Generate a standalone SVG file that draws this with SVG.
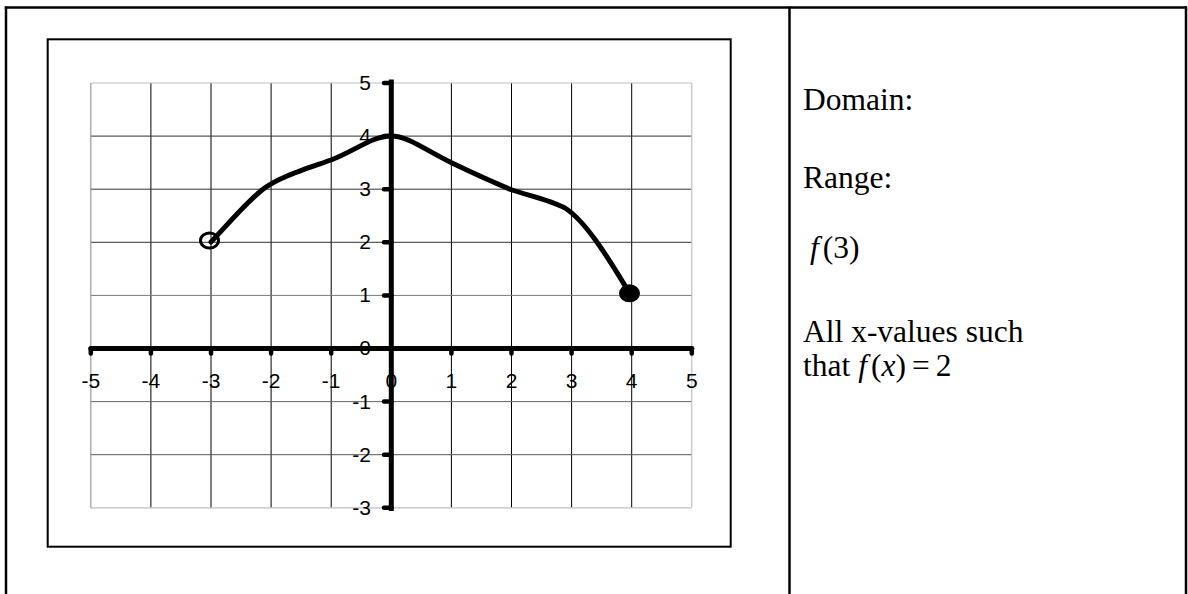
<svg xmlns="http://www.w3.org/2000/svg" width="1188" height="594" viewBox="0 0 1188 594">
<style>
.tbl{stroke:#000;stroke-width:2.5;fill:none}
.frame{stroke:#000;stroke-width:2;fill:none}
.gv{stroke:#000;stroke-width:1}
.gh{stroke:#333;stroke-width:1}
.gedge{stroke:#c0c0c0;stroke-width:1.2}
.axis{stroke:#000;stroke-width:5;stroke-linecap:round}
.tick{stroke:#000;stroke-width:4.5;stroke-linecap:round}
.lab{font-family:"Liberation Sans",Arial,sans-serif;font-size:21px;fill:#000}
.txt{font-family:"Liberation Serif","Times New Roman",serif;font-size:31.5px;fill:#000}
.it{font-style:italic}
.curve{stroke:#000;stroke-width:5;fill:none;stroke-linecap:round;stroke-linejoin:round}
</style>
<rect width="1188" height="594" fill="#fff"/>
<g id="table">
<line class="tbl" x1="4.8" y1="7.5" x2="1187" y2="7.5"/>
<line class="tbl" x1="6" y1="6.5" x2="6" y2="594"/>
<line class="tbl" x1="789.5" y1="6.5" x2="789.5" y2="594"/>
<line class="tbl" x1="1186" y1="6.5" x2="1186" y2="594"/>
</g>
<g id="chart-frame">
<rect class="frame" x="47.7" y="39.3" width="683" height="507.4"/>
</g>
<g id="grid">
<line class="gv" x1="150.9" y1="83" x2="150.9" y2="507.8"/>
<line class="gv" x1="211" y1="83" x2="211" y2="507.8"/>
<line class="gv" x1="271.1" y1="83" x2="271.1" y2="507.8"/>
<line class="gv" x1="331.2" y1="83" x2="331.2" y2="507.8"/>
<line class="gv" x1="451.4" y1="83" x2="451.4" y2="507.8"/>
<line class="gv" x1="511.5" y1="83" x2="511.5" y2="507.8"/>
<line class="gv" x1="571.6" y1="83" x2="571.6" y2="507.8"/>
<line class="gv" x1="631.7" y1="83" x2="631.7" y2="507.8"/>
<line class="gh" x1="90.8" y1="136.1" x2="691.8" y2="136.1"/>
<line class="gh" x1="90.8" y1="189.2" x2="691.8" y2="189.2"/>
<line class="gh" x1="90.8" y1="242.3" x2="691.8" y2="242.3"/>
<line class="gh" x1="90.8" y1="295.4" x2="691.8" y2="295.4" style="stroke:#777"/>
<line class="gh" x1="90.8" y1="401.6" x2="691.8" y2="401.6" style="stroke:#666"/>
<line class="gh" x1="90.8" y1="454.7" x2="691.8" y2="454.7" style="stroke:#555"/>
<line class="gedge" x1="90.8" y1="83" x2="691.8" y2="83"/>
<line class="gedge" x1="90.8" y1="507.8" x2="691.8" y2="507.8"/>
<line class="gedge" x1="90.8" y1="83" x2="90.8" y2="507.8" style="stroke:#999"/>
<line class="gedge" x1="691.8" y1="83" x2="691.8" y2="507.8"/>
</g>
<g id="axes">
<line class="axis" x1="90.8" y1="348.5" x2="691.8" y2="348.5"/>
<line class="axis" x1="391.3" y1="82" x2="391.3" y2="508.5" style="stroke-linecap:square"/>
<g id="x-ticks">
<line class="tick" x1="90.8" y1="348.5" x2="90.8" y2="353.5"/>
<line class="tick" x1="150.9" y1="348.5" x2="150.9" y2="353.5"/>
<line class="tick" x1="211" y1="348.5" x2="211" y2="353.5"/>
<line class="tick" x1="271.1" y1="348.5" x2="271.1" y2="353.5"/>
<line class="tick" x1="331.2" y1="348.5" x2="331.2" y2="353.5"/>
<line class="tick" x1="451.4" y1="348.5" x2="451.4" y2="353.5"/>
<line class="tick" x1="511.5" y1="348.5" x2="511.5" y2="353.5"/>
<line class="tick" x1="571.6" y1="348.5" x2="571.6" y2="353.5"/>
<line class="tick" x1="631.7" y1="348.5" x2="631.7" y2="353.5"/>
<line class="tick" x1="691.8" y1="348.5" x2="691.8" y2="353.5"/>
</g>
<g id="y-ticks">
<line class="tick" x1="391.3" y1="83" x2="384" y2="83"/>
<line class="tick" x1="391.3" y1="136.1" x2="384" y2="136.1"/>
<line class="tick" x1="391.3" y1="189.2" x2="384" y2="189.2"/>
<line class="tick" x1="391.3" y1="242.3" x2="384" y2="242.3"/>
<line class="tick" x1="391.3" y1="295.4" x2="384" y2="295.4"/>
<line class="tick" x1="391.3" y1="348.5" x2="384" y2="348.5"/>
<line class="tick" x1="391.3" y1="401.6" x2="384" y2="401.6"/>
<line class="tick" x1="391.3" y1="454.7" x2="384" y2="454.7"/>
<line class="tick" x1="391.3" y1="507.8" x2="384" y2="507.8"/>
</g>
</g>
<g id="x-labels" class="lab" text-anchor="middle">
<text x="90.8" y="387.5">-5</text>
<text x="150.9" y="387.5">-4</text>
<text x="211" y="387.5">-3</text>
<text x="271.1" y="387.5">-2</text>
<text x="331.2" y="387.5">-1</text>
<text x="391.3" y="387.5">0</text>
<text x="451.4" y="387.5">1</text>
<text x="511.5" y="387.5">2</text>
<text x="571.6" y="387.5">3</text>
<text x="631.7" y="387.5">4</text>
<text x="691.8" y="387.5">5</text>
</g>
<g id="y-labels" class="lab" text-anchor="end">
<text x="371" y="90">5</text>
<text x="371" y="143">4</text>
<text x="371" y="196">3</text>
<text x="371" y="249">2</text>
<text x="371" y="302">1</text>
<text x="371" y="355">0</text>
<text x="371" y="408.5">-1</text>
<text x="371" y="461.5">-2</text>
<text x="371" y="514.5">-3</text>
</g>
<g id="graph">
<path class="curve" d="M211,242 C230,222 247,202 262,190 C277,178 300,171 331,160 C355,151 372,136 391,136 C408,136 425,150 452,163 C475,174 495,183 512,190 C530,196 550,200 565,208 C584,220 605,252 630,294"/>
<ellipse id="open-point" cx="209.5" cy="240.5" rx="9" ry="7.5" fill="none" stroke="#000" stroke-width="3"/>
<ellipse id="closed-point" cx="629.5" cy="293.3" rx="10.5" ry="9" fill="#000"/>
</g>
<g id="questions" class="txt">
<text x="803" y="110">Domain:</text>
<text x="803" y="188">Range:</text>
<text x="810" y="258"><tspan class="it">f</tspan><tspan dx="4">(3)</tspan></text>
<text x="803" y="342">All x-values such</text>
<text x="803" y="376">that <tspan class="it">f</tspan><tspan dx="4">(</tspan><tspan class="it">x</tspan>)<tspan dx="6">=</tspan><tspan dx="6">2</tspan></text>
</g>
</svg>
